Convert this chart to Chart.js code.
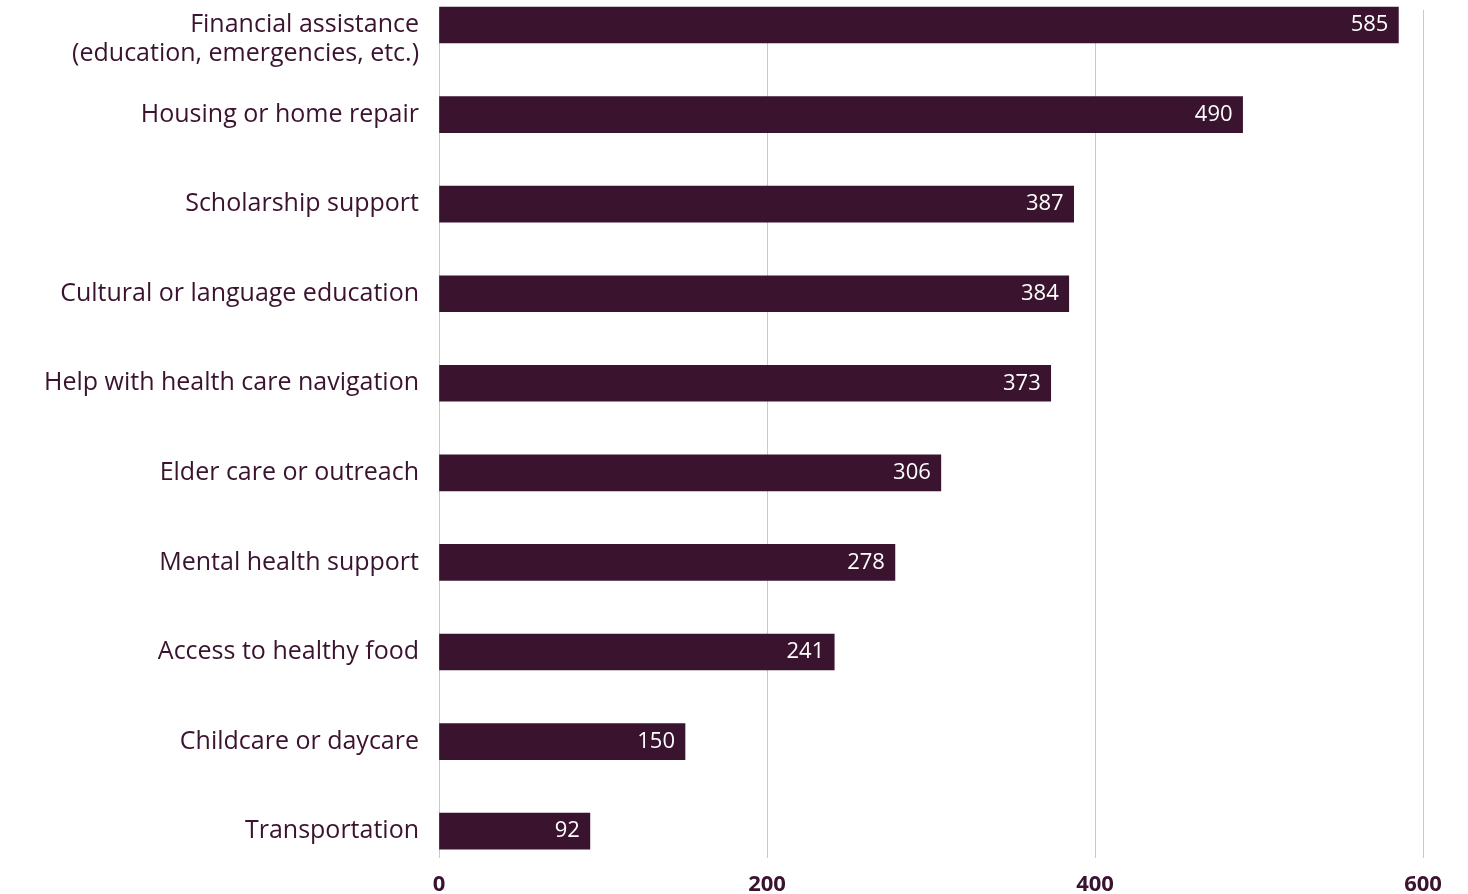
<!DOCTYPE html>
<html>
<head>
<meta charset="utf-8">
<script src="https://cdn.jsdelivr.net/npm/chart.js@4"></script>
<style>
  html, body { margin: 0; padding: 0; background: #ffffff; }
  #wrap { width: 1468px; height: 894px; }
</style>
</head>
<body>
<div id="wrap"><canvas id="supportChart"></canvas></div>
<script>
var categories = [
    ["", "Financial assistance", "(education, emergencies, etc.)"],
    "Housing or home repair",
    "Scholarship support",
    "Cultural or language education",
    "Help with health care navigation",
    "Elder care or outreach",
    "Mental health support",
    "Access to healthy food",
    "Childcare or daycare",
    "Transportation"
];
var counts = [585, 490, 387, 384, 373, 306, 278, 241, 150, 92];
var xTicks = [0, 200, 400, 600];

var barColor = '#3a132f';
var textColor = '#3a132f';
var fontFamily = 'Open Sans';

// one point per category, index on the y axis
var points = counts.map(function(v, i) { return { x: v, y: i }; });

// value labels inside the bar end
var valueLabels = {
    id: 'valueLabels',
    afterDatasetsDraw: function(chart) {
        var ctx = chart.ctx;
        var meta = chart.getDatasetMeta(0);
        ctx.save();
        ctx.fillStyle = '#ffffff';
        ctx.font = '22px ' + fontFamily;
        ctx.textAlign = 'right';
        ctx.textBaseline = 'middle';
        meta.data.forEach(function(bar, i) {
            ctx.fillText(counts[i], bar.x - 10, bar.y);
        });
        ctx.restore();
    }
};

new Chart(document.getElementById('supportChart'), {
    type: 'bar',
    data: {
        datasets: [{
            data: points,
            backgroundColor: barColor,
            borderWidth: 0,
            barThickness: 36,
            clip: false
        }]
    },
    options: {
        indexAxis: 'y',
        responsive: true,
        maintainAspectRatio: false,
        animation: false,
        layout: { padding: { top: 10, right: 45, bottom: 0, left: 0 } },
        plugins: {
            legend: { display: false },
            tooltip: { enabled: false }
        },
        scales: {
            x: {
                type: 'linear',
                min: 0,
                max: 600,
                afterBuildTicks: function(scale) {
                    scale.ticks = xTicks.map(function(v) { return { value: v }; });
                },
                afterFit: function(scale) { scale.height = 36; },
                grid: { color: '#cdc6cb', lineWidth: 1, drawTicks: false },
                border: { display: false },
                ticks: {
                    color: textColor,
                    padding: 14,
                    font: { family: fontFamily, size: 22, weight: 'bold' }
                }
            },
            y: {
                type: 'linear',
                reverse: true,
                offset: false,
                min: -0.1675,
                max: 9.30,
                afterBuildTicks: function(scale) {
                    scale.ticks = categories.map(function(c, i) { return { value: i }; });
                },
                afterFit: function(scale) {
                    scale.width = 439;
                    scale.paddingTop = 0;
                    scale.paddingBottom = 0;
                },
                grid: { display: false, drawTicks: false },
                border: { display: false },
                ticks: {
                    color: textColor,
                    padding: 20,
                    autoSkip: false,
                    font: { family: fontFamily, size: 25, lineHeight: 1.16 },
                    callback: function(v) { return categories[v]; }
                }
            }
        }
    },
    plugins: [valueLabels]
});
</script>
</body>
</html>
